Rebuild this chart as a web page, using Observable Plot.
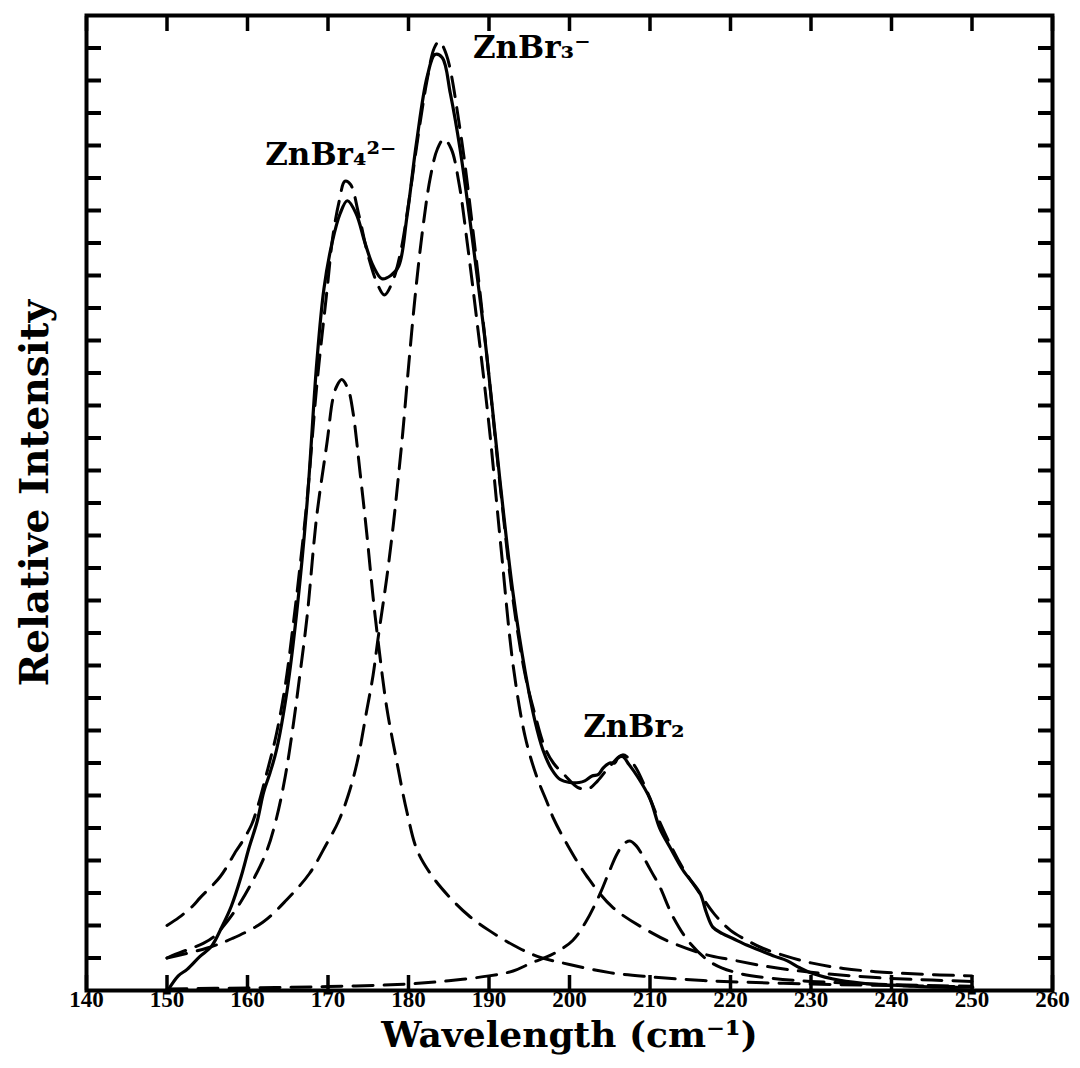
<!DOCTYPE html>
<html>
<head>
<meta charset="utf-8">
<script src="https://cdn.jsdelivr.net/npm/d3@7"></script>
<script src="https://cdn.jsdelivr.net/npm/@observablehq/plot@0.6"></script>
<style>
  html, body { margin: 0; padding: 0; background: #fff; }
  #chart svg { display: block; }
</style>
</head>
<body>
<div id="chart"></div>
<script>
// Raman spectrum of a zinc bromide solution (solid) with the fitted band
// envelope and its three component bands (dashed).

const xTicks = [140, 150, 160, 170, 180, 190, 200, 210, 220, 230, 240, 250, 260];
const yTicks = [1, 2, 3, 4, 5, 6, 7, 8, 9, 10, 11, 12, 13, 14, 15, 16, 17, 18, 19, 20,
                21, 22, 23, 24, 25, 26, 27, 28, 29];

// Measured spectrum
const measuredW = [150.1, 151.4, 152.5, 154.1, 155.5, 156.9, 158.0, 159.2, 160.2, 161.2,
  162.0, 162.8, 163.6, 164.9, 166.1, 167.4, 168.6, 169.5, 170.5, 171.5, 172.4, 173.5, 174.6,
  175.6, 176.7, 177.8, 178.8, 179.8, 181.0, 182.3, 183.3, 184.2, 185.2, 186.4, 188.0,
  189.7, 191.4, 193.0, 194.5, 195.7, 196.7, 197.8, 198.8, 200.0, 201.2, 201.9, 202.8,
  203.6, 204.2, 205.0, 205.6, 206.0, 206.6, 207.4, 208.4, 210.0, 211.2, 212.5, 214.1,
  216.2, 217.0, 217.8, 219.0, 220.3, 222.0, 223.7, 225.5, 227.0, 228.6, 230.2, 233.6,
  237.3, 241.4, 245.7, 250.1];
const measuredI = [0.0, 0.45, 0.65, 1.05, 1.35, 2.0, 2.6, 3.5, 4.4, 5.2,
  6.1, 6.7, 7.4, 9.2, 11.6, 15.0, 19.3, 21.6, 23.0, 23.9, 24.3, 23.9, 23.0,
  22.3, 21.9, 22.0, 22.3, 23.8, 26.1, 28.1, 28.8, 28.7, 27.6, 25.9, 23.0,
  19.6, 15.6, 12.2, 9.8, 8.3, 7.4, 6.8, 6.5, 6.4, 6.4, 6.45, 6.6,
  6.65, 6.85, 7.0, 7.0, 7.15, 7.2, 6.95, 6.6, 5.9, 5.0, 4.4, 3.7,
  3.0, 2.4, 1.95, 1.75, 1.6, 1.4, 1.23, 1.05, 0.92, 0.7, 0.52, 0.31,
  0.2, 0.15, 0.1, 0.1];

// Fitted envelope
const fitW = [150.0, 151.5, 153.2, 154.1, 156.6, 158.6, 159.4, 160.5, 161.2, 162.4,
  163.6, 164.7, 165.7, 166.5, 167.4, 168.6, 169.9, 170.6, 171.4, 172.1, 172.8, 173.8,
  175.0, 176.2, 177.0, 178.0, 179.0, 180.0, 181.2, 182.3, 183.2, 183.8, 184.7, 186.4,
  188.0, 189.7, 191.4, 193.0, 194.5, 195.7, 196.9, 198.0, 199.5, 201.0, 202.3, 203.5,
  205.0, 206.6, 208.0, 209.5, 211.0, 212.5, 214.0, 216.0, 218.0, 220.0, 222.0, 224.0,
  227.0, 230.0, 234.0, 238.0, 242.0, 246.0, 250.0];
const fitI = [2.0, 2.25, 2.6, 2.85, 3.5, 4.3, 4.6, 5.1, 5.6, 6.7,
  7.9, 9.4, 11.3, 13.0, 15.1, 18.6, 21.6, 23.2, 24.3, 24.9, 24.8, 23.9,
  22.6, 21.7, 21.4, 21.8, 22.7, 24.2, 26.3, 28.0, 29.0, 29.2, 28.8, 26.5,
  23.4, 19.6, 15.5, 12.0, 9.7, 8.5, 7.5, 7.0, 6.6, 6.25, 6.2, 6.45,
  6.9, 7.25, 6.95, 6.2, 5.3, 4.5, 3.8, 3.05, 2.35, 1.85, 1.55, 1.3,
  1.05, 0.85, 0.68, 0.58, 0.52, 0.48, 0.45];

// ZnBr4(2-) band
const znbr4W = [150.0, 150.7, 152.5, 154.5, 155.8, 157.4, 159.1, 160.7, 162.4, 163.6,
  164.7, 165.7, 166.5, 167.4, 168.6, 169.9, 170.6, 171.1, 171.7, 172.5, 173.1, 174.0,
  174.8, 175.6, 176.2, 177.3, 178.5, 179.8, 181.1, 183.0, 185.0, 187.5, 190.0, 193.0,
  196.0, 200.0, 205.0, 210.0, 215.0, 220.0, 230.0, 240.0, 250.0];
const znbr4I = [1.0, 1.08, 1.25, 1.45, 1.65, 2.1, 2.7, 3.4, 4.3, 5.3,
  6.6, 8.2, 9.7, 11.5, 14.6, 16.9, 18.2, 18.6, 18.8, 18.5, 17.8, 15.9,
  14.1, 12.1, 10.8, 8.7, 7.1, 5.5, 4.3, 3.5, 2.9, 2.3, 1.85, 1.4,
  1.05, 0.8, 0.55, 0.42, 0.33, 0.27, 0.2, 0.15, 0.12];

// ZnBr3(-) band
const znbr3W = [150.0, 154.9, 158.1, 161.9, 164.9, 167.7, 169.8, 171.3, 172.5, 173.6,
  174.8, 175.6, 176.2, 177.3, 178.1, 178.7, 179.3, 179.9, 180.8, 181.7, 182.7, 183.6,
  184.4, 185.3, 186.3, 187.3, 188.5, 190.0, 191.5, 193.0, 194.5, 195.9, 197.2, 198.0,
  199.7, 202.2, 205.4, 210.4, 212.9, 217.0, 220.0, 225.0, 230.0, 235.0, 240.0, 245.0, 250.0];
const znbr3I = [1.0, 1.3, 1.6, 2.1, 2.8, 3.6, 4.5, 5.2, 6.0, 7.0,
  8.6, 9.7, 10.8, 12.7, 14.3, 15.7, 17.2, 18.9, 21.3, 23.3, 25.0, 25.9,
  26.2, 25.9, 24.8, 23.0, 20.6, 17.4, 13.6, 10.0, 7.8, 6.6, 5.8, 5.3,
  4.5, 3.5, 2.55, 1.75, 1.45, 1.1, 0.95, 0.72, 0.56, 0.45, 0.37, 0.32, 0.28];

// ZnBr2 band
const znbr2W = [150.0, 160.0, 170.0, 180.0, 185.0, 190.0, 193.0, 195.1, 198.0, 200.4,
  202.0, 203.8, 205.0, 205.9, 206.7, 207.5, 208.3, 209.2, 210.2, 211.2, 212.9, 215.0,
  217.8, 221.2, 225.0, 230.0, 240.0, 250.0];
const znbr2I = [0.05, 0.08, 0.12, 0.2, 0.3, 0.45, 0.6, 0.83, 1.13, 1.54,
  2.1, 2.98, 3.7, 4.2, 4.5, 4.6, 4.45, 4.1, 3.65, 3.2, 2.25, 1.45,
  0.83, 0.52, 0.38, 0.28, 0.18, 0.13];

// Band labels
const labelText = ["ZnBr\u2084\u00B2\u207B", "ZnBr\u2083\u207B", "ZnBr\u2082"];
const labelW = [162.2, 188.0, 201.7];
const labelI = [25.7, 29.0, 8.1];

const rows = (ws, is) => ws.map((w, k) => ({w, i: is[k]}));
const measured = rows(measuredW, measuredI);
const fit = rows(fitW, fitI);
const bands = [rows(znbr4W, znbr4I), rows(znbr3W, znbr3I), rows(znbr2W, znbr2I)];
const labels = labelText.map((t, k) => ({t, w: labelW[k], i: labelI[k]}));

const serif = "'DejaVu Serif', 'Liberation Serif', serif";
const tickFont = "'Liberation Serif', 'DejaVu Serif', serif";
const dashed = {x: "w", y: "i", stroke: "#000", strokeWidth: 3, strokeDasharray: "20,11", curve: "catmull-rom"};

const chart = Plot.plot({
  width: 1080,
  height: 1068,
  marginLeft: 86,
  marginRight: 28,
  marginTop: 15,
  marginBottom: 78,
  x: {domain: [140, 260]},
  y: {domain: [0, 30]},
  style: {background: "#fff", color: "#000", fontFamily: serif},
  marks: [
    ...bands.map(b => Plot.line(b, dashed)),
    Plot.line(fit, dashed),
    Plot.line(measured, {x: "w", y: "i", stroke: "#000", strokeWidth: 3.2, curve: "catmull-rom"}),
    Plot.axisX({anchor: "bottom", ticks: xTicks, tickSize: -15, strokeWidth: 3.5, tickFormat: () => "", label: null}),
    Plot.axisX({anchor: "top", ticks: xTicks, tickSize: -15, strokeWidth: 3.5, tickFormat: () => "", label: null}),
    Plot.axisX({anchor: "bottom", ticks: xTicks, tickSize: 0, tickPadding: 0, label: null,
      tickFormat: d => String(d), fontSize: 23, fontWeight: "bold", fontFamily: tickFont}),
    Plot.axisY({anchor: "left", ticks: yTicks, tickSize: -15, strokeWidth: 4, tickFormat: () => "", label: null}),
    Plot.axisY({anchor: "right", ticks: yTicks, tickSize: -15, strokeWidth: 4, tickFormat: () => "", label: null}),
    Plot.frame({stroke: "#000", strokeWidth: 4}),
    Plot.text([0], {frameAnchor: "bottom", dy: 56, text: () => "Wavelength (cm\u207B\u00B9)",
      fontSize: 36, fontWeight: "bold", fontFamily: serif}),
    Plot.text([0], {frameAnchor: "left", textAnchor: "middle", rotate: -90, dx: -51, dy: -10,
      text: () => "Relative Intensity", fontSize: 39, fontWeight: "bold", fontFamily: serif}),
    Plot.text(labels, {x: "w", y: "i", text: "t", textAnchor: "start", fontSize: 31,
      fontWeight: "bold", fontFamily: serif})
  ]
});

document.getElementById("chart").append(chart);
</script>
</body>
</html>
